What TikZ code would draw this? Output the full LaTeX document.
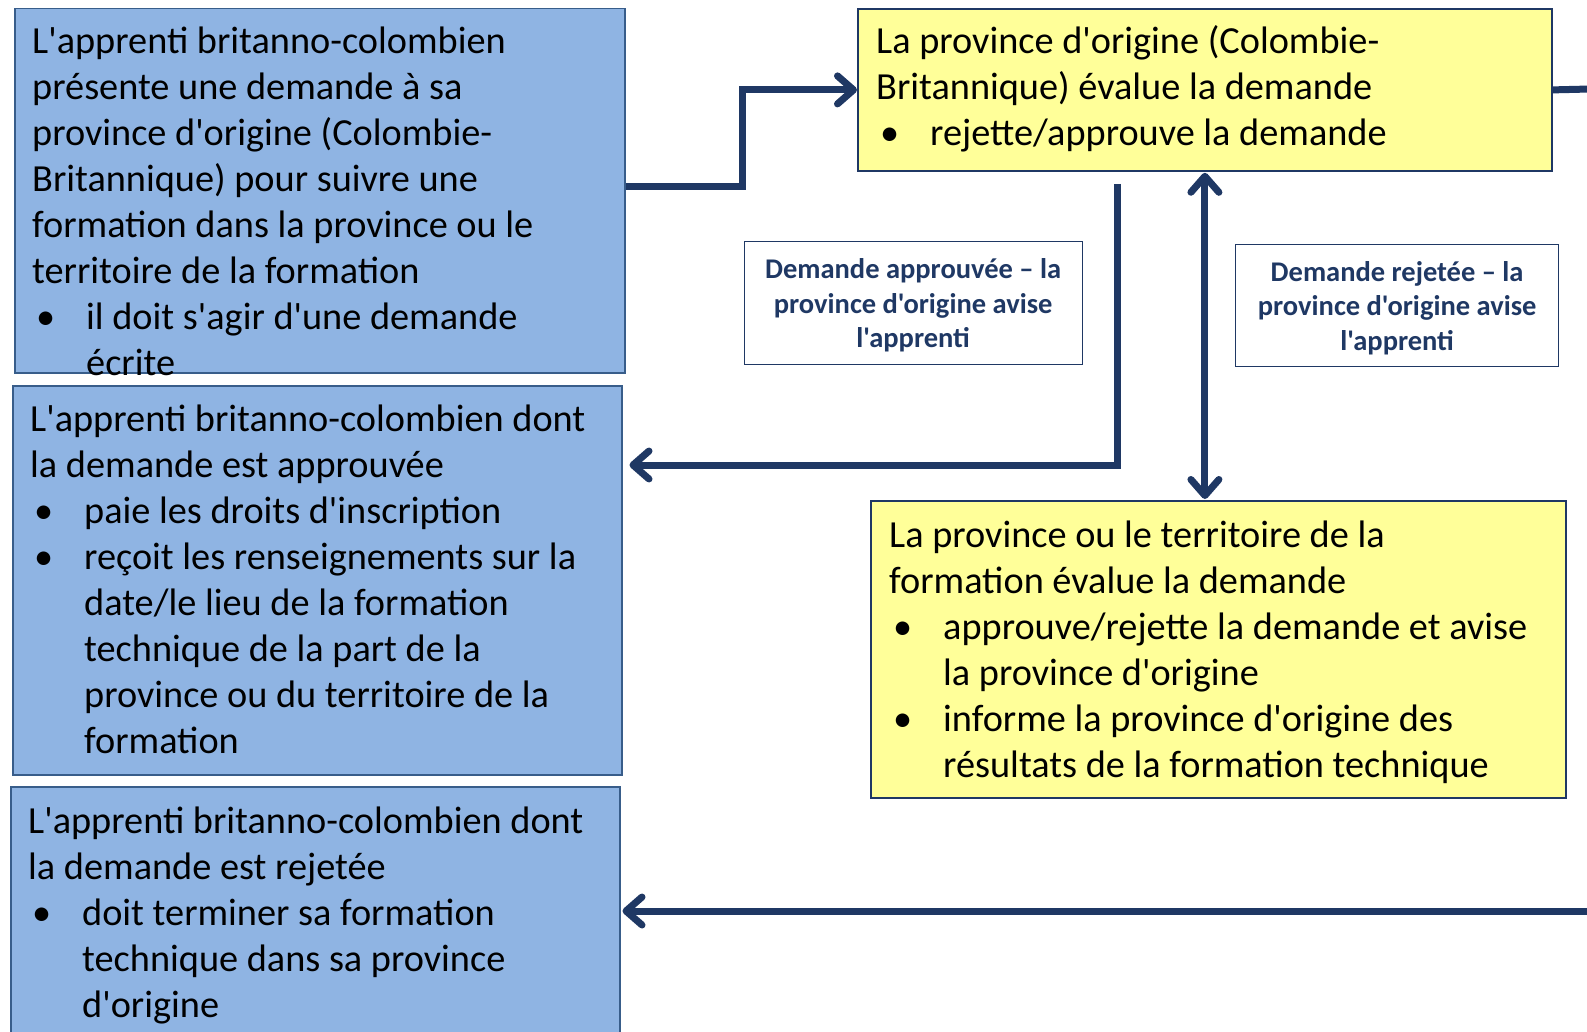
\documentclass[tikz,border=0pt]{standalone}
\usepackage{fontspec}
\newfontfamily\carl{Carlito}
\usetikzlibrary{arrows.meta,calc}
\definecolor{navy}{RGB}{31,56,100}
\definecolor{bluefill}{RGB}{143,180,227}
\definecolor{blueedge}{RGB}{56,93,138}
\definecolor{yellowfill}{RGB}{255,255,153}
\newcommand\bl{\hspace*{4pt}\makebox[50pt][l]{\textbullet}}
\newcommand\ct{\hspace*{54pt}}
\newcommand\lines[1]{\begin{tabular}[t]{@{}l@{}}#1\end{tabular}}
\newcommand\clines[1]{\raisebox{-3pt}[\height][\depth]{\begin{tabular}{@{}c@{}}#1\end{tabular}}}
\begin{document}
\begin{tikzpicture}[x=1pt,y=-1pt,
  bluebox/.style={draw=blueedge,line width=1.5pt,fill=bluefill,anchor=north west,inner sep=0pt},
  yellowbox/.style={draw=navy,line width=1.8pt,fill=yellowfill,anchor=north west,inner sep=0pt},
  labelbox/.style={draw=navy,line width=1.3pt,fill=white,anchor=north west,inner sep=0pt,
    text=navy,font=\carl\bfseries\fontsize{28.5}{34.5}\selectfont},
  txt/.style={anchor=base west,inner sep=0pt,font=\carl\fontsize{38.3}{46}\selectfont},
  conn/.style={draw=navy,line width=7pt},
  tip/.style={-{Straight Barb[length=16pt,width=28pt,round]}}
]
\useasboundingbox (0,0) rectangle (1587,1032);
\fill[white] (0,0) rectangle (1587,1032);

% boxes
\node[bluebox,minimum width=610pt,minimum height=364pt] (b1) at (14,8) {};
\node[bluebox,minimum width=609pt,minimum height=389pt] (b2) at (12,385) {};
\node[bluebox,minimum width=609pt,minimum height=254pt] (b3) at (10,786) {};
\node[yellowbox,minimum width=694pt,minimum height=162pt] (y1) at (857,8) {};
\node[yellowbox,minimum width=695pt,minimum height=297pt] (y2) at (870,500) {};

% texts
\node[txt] (t1) at (32,54) {\lines{L'apprenti britanno-colombien\\présente une demande à sa\\province d'origine (Colombie-\\Britannique) pour suivre une\\formation dans la province ou le\\territoire de la formation\\\bl il doit s'agir d'une demande\\\ct écrite}};
\node[txt] (t2) at (30,431) {\lines{L'apprenti britanno-colombien dont\\la demande est approuvée\\\bl paie les droits d'inscription\\\bl reçoit les renseignements sur la\\\ct date/le lieu de la formation\\\ct technique de la part de la\\\ct province ou du territoire de la\\\ct formation}};
\node[txt] (t3) at (28,833) {\lines{L'apprenti britanno-colombien dont\\la demande est rejetée\\\bl doit terminer sa formation\\\ct technique dans sa province\\\ct d'origine}};
\node[txt] (t4) at (876,54) {\lines{La province d'origine (Colombie-\\Britannique) évalue la demande\\\bl rejette/approuve la demande}};
\node[txt] (t5) at (889,547) {\lines{La province ou le territoire de la\\formation évalue la demande\\\bl approuve/rejette la demande et avise\\\ct la province d'origine\\\bl informe la province d'origine des\\\ct résultats de la formation technique}};

% labels
\node[labelbox,minimum width=338pt,minimum height=123pt] (l1) at (743.5,241) {\clines{Demande approuvée – la\\province d'origine avise\\l'apprenti}};
\node[labelbox,minimum width=323pt,minimum height=122pt] (l2) at (1235,244) {\clines{Demande rejetée – la\\province d'origine avise\\l'apprenti}};

% free ends
\coordinate (outR) at (1590,89);
\coordinate (inR) at (1590,911);
\coordinate (appr) at (1117,184);

% connectors
\draw[conn,tip] ([yshift=4pt]b1.east) -- ++(117,0) |- (y1.west);
\draw[conn] (y1.east) -- (outR);
\draw[conn,{Straight Barb[length=16pt,width=28pt,round]}-{Straight Barb[length=16pt,width=28pt,round]}] ([yshift=-1pt]y1.south) -- ([yshift=1pt]y1.south |- y2.north);
\draw[conn,tip] (appr) |- ([xshift=7pt]b2.east |- 0,465);
\draw[conn,tip] (inR) -- ([xshift=2pt]b3.east |- inR);
\end{tikzpicture}
\end{document}
